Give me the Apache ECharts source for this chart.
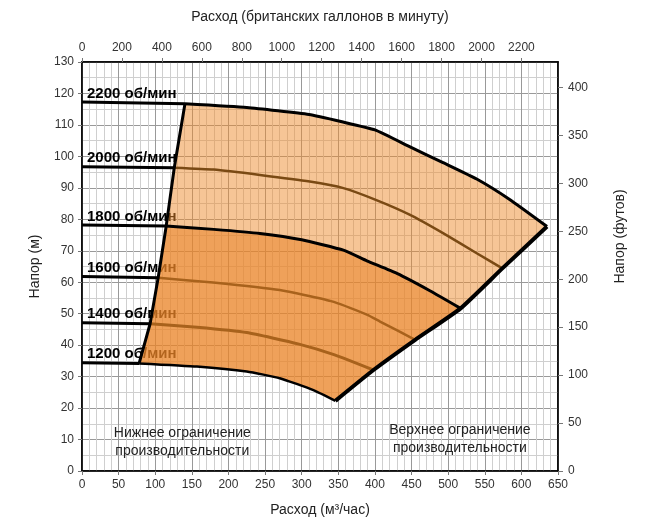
<!DOCTYPE html>
<html lang="ru">
<head>
    <meta charset="UTF-8">
    <title>Рабочая область насоса</title>
    <style>
        html,
        body {
            margin: 0;
            padding: 0;
            background: #fff;
        }
    </style>
</head>
<body>
    <div id="chart" style="width: 645px; height: 528px;"></div>

    <script src="https://cdn.jsdelivr.net/npm/echarts@6/dist/echarts.min.js"></script>
    <script>
        // Q (м3/час), H (м); index 1 = point on the lower (min flow) limit line
        var curve2200 = [[0, 117.3], [140.6, 116.7], [225, 115.5], [310, 113.3], [355, 111], [400, 108.4], [448, 103], [493, 98], [539, 92.8], [584, 86.3], [635, 77.7]];
        var curve2000 = [[0, 96.7], [126, 96.4], [180, 95.8], [243, 94.1], [311, 92.0], [357, 89.9], [402, 86.1], [448, 81.4], [493, 75.6], [539, 69.2], [574, 64.4]];
        var curve1800 = [[0, 78.2], [115, 77.9], [180, 76.8], [243, 75.5], [300, 73.5], [357, 70.2], [389, 66.8], [430, 62.8], [475, 57.3], [517, 51.7]];
        var curve1600 = [[0, 61.8], [104, 61.4], [179, 59.9], [270, 57.5], [340, 54], [389, 49.7], [407, 47.5], [455, 41.7]];
        var curve1400 = [[0, 47.1], [93, 46.8], [157, 45.7], [225, 44.0], [295, 40.4], [345, 36.9], [398, 32.1]];
        var curve1200 = [[0, 34.4], [78, 34.2], [157, 33.2], [225, 31.6], [270, 29.5], [316, 25.7], [346, 22.3]];

        var curves = [curve2200, curve2000, curve1800, curve1600, curve1400, curve1200];
        var rpmLabels = ['2200 об/мин', '2000 об/мин', '1800 об/мин', '1600 об/мин', '1400 об/мин', '1200 об/мин'];
        var innerColors = ['#000', '#7a4a14', '#000', '#a8621c', '#a8621c', '#000'];

        var notes = ['Нижнее ограничение\nпроизводительности', 'Верхнее ограничение\nпроизводительности'];
        var notePos = [[137, 9.3], [516, 10.2]];

        var IGPM_PER_M3H = 1000 / 4.54609 / 60;
        var FT_PER_M = 3.28084;
        var FONT = 'Liberation Sans, Arial, sans-serif';

        // limit lines go through the first inner point / last point of every curve
        var lowLimit = curves.map(function (c) { return c[1]; }).reverse();
        var highLimit = curves.map(function (c) { return c[c.length - 1]; }).reverse();

        function inner(c) { return c.slice(1); }

        // zone outlines: upper curve forward, right limit down, lower curve back, left limit up
        function zone(top, bottom) {
            var pts = inner(top);
            var iTop = curves.indexOf(top), iBot = curves.indexOf(bottom);
            for (var i = iTop + 1; i < iBot; i++) pts.push(curves[i][curves[i].length - 1]);
            pts = pts.concat(inner(bottom).reverse());
            for (var j = iBot - 1; j > iTop; j--) pts.push(curves[j][1]);
            return pts;
        }
        var zones = [zone(curve2200, curve1800), zone(curve1800, curve1200)];
        var zoneColors = ['rgba(238,140,45,0.5)', 'rgba(234,132,38,0.76)'];

        var chart = echarts.init(document.getElementById('chart'));

        var series = [];

        // rpm captions, sit under the filled zones
        series.push({
            type: 'custom',
            z: 1,
            silent: true,
            data: curves.map(function (c) { return c[0]; }),
            renderItem: function (params, api) {
                var p = api.coord([api.value(0), api.value(1)]);
                return {
                    type: 'text',
                    x: p[0] + 5,
                    y: p[1] - 1,
                    style: {
                        text: rpmLabels[params.dataIndex],
                        fontSize: 15,
                        fontWeight: 'bold',
                        fontFamily: FONT,
                        fill: '#000',
                        verticalAlign: 'bottom'
                    }
                };
            }
        });

        series.push({
            type: 'custom',
            z: 2,
            silent: true,
            data: zones.map(function () { return [0, 0]; }),
            renderItem: function (params, api) {
                var pts = zones[params.dataIndex].map(function (d) { return api.coord(d); });
                return {
                    type: 'polygon',
                    shape: { points: pts },
                    style: { fill: zoneColors[params.dataIndex] }
                };
            }
        });

        curves.forEach(function (c, i) {
            series.push({
                type: 'line',
                z: 3,
                data: c.slice(0, 2),
                showSymbol: false,
                lineStyle: { color: '#000', width: 3 }
            });
            series.push({
                type: 'line',
                z: 3,
                data: inner(c),
                smooth: 0.15,
                showSymbol: false,
                lineStyle: { color: innerColors[i], width: i % 2 === 0 ? 3 : 2.5, join: 'round' }
            });
        });

        series.push({
            type: 'line',
            z: 4,
            data: lowLimit,
            showSymbol: false,
            lineStyle: { color: '#000', width: 3 }
        });
        series.push({
            type: 'line',
            z: 4,
            data: highLimit,
            smooth: 0.15,
            showSymbol: false,
            lineStyle: { color: '#000', width: 4, join: 'round' }
        });

        series.push({
            type: 'custom',
            z: 5,
            silent: true,
            data: notePos,
            renderItem: function (params, api) {
                var p = api.coord([api.value(0), api.value(1)]);
                return {
                    type: 'text',
                    x: p[0],
                    y: p[1],
                    style: {
                        text: notes[params.dataIndex],
                        fontSize: 14,
                        fontFamily: FONT,
                        fill: '#222',
                        align: 'center',
                        verticalAlign: 'middle',
                        lineHeight: 18
                    }
                };
            }
        });

        var labelStyle = { color: '#333', fontSize: 12, fontFamily: FONT };
        var nameStyle = { color: '#222', fontSize: 14, fontFamily: FONT };
        var frameLine = { show: true, onZero: false, lineStyle: { color: '#000', width: 1.5 } };

        function plain(v) { return String(Math.round(v)); }

        chart.setOption({
            animation: false,
            grid: {
                left: 82, right: 87, top: 62, bottom: 57,
                show: true, borderColor: '#000', borderWidth: 1.5
            },
            xAxis: [{
                type: 'value',
                position: 'bottom',
                min: 0, max: 650, interval: 50,
                name: 'Расход (м³/час)',
                nameLocation: 'middle',
                nameGap: 32,
                nameTextStyle: nameStyle,
                axisLine: frameLine,
                axisTick: { show: true, length: 4, lineStyle: { color: '#777' } },
                axisLabel: Object.assign({ formatter: plain }, labelStyle),
                splitLine: { show: true, lineStyle: { color: '#999', width: 1 } },
                minorTick: { show: false, splitNumber: 5 },
                minorSplitLine: { show: true, lineStyle: { color: '#cfcfcf', width: 1 } }
            }, {
                type: 'value',
                position: 'top',
                min: 0, max: 650 * IGPM_PER_M3H, interval: 200,
                name: 'Расход (британских галлонов в минуту)',
                nameLocation: 'middle',
                nameGap: 38,
                nameTextStyle: nameStyle,
                axisLine: frameLine,
                axisTick: { show: true, length: 4, lineStyle: { color: '#777' } },
                axisLabel: Object.assign({
                    showMaxLabel: false,
                    formatter: function (v) { return v % 200 === 0 ? plain(v) : ''; }
                }, labelStyle),
                splitLine: { show: false }
            }],
            yAxis: [{
                type: 'value',
                position: 'left',
                min: 0, max: 130, interval: 10,
                name: 'Напор (м)',
                nameLocation: 'middle',
                nameGap: 40,
                nameTextStyle: nameStyle,
                axisLine: frameLine,
                axisTick: { show: true, length: 4, lineStyle: { color: '#777' } },
                axisLabel: Object.assign({ formatter: plain }, labelStyle),
                splitLine: { show: true, lineStyle: { color: '#999', width: 1 } },
                minorTick: { show: false, splitNumber: 2 },
                minorSplitLine: { show: true, lineStyle: { color: '#cfcfcf', width: 1 } }
            }, {
                type: 'value',
                position: 'right',
                min: 0, max: 130 * FT_PER_M, interval: 50,
                name: 'Напор (футов)',
                nameLocation: 'middle',
                nameGap: 55,
                nameTextStyle: Object.assign({ padding: [0, 0, 0, 60] }, nameStyle),
                axisLine: frameLine,
                axisTick: { show: true, length: 5, lineStyle: { color: '#777' } },
                axisLabel: Object.assign({
                    showMaxLabel: false,
                    margin: 10,
                    formatter: function (v) { return v % 50 === 0 ? plain(v) : ''; }
                }, labelStyle),
                splitLine: { show: false }
            }],
            series: series
        });
    </script>
</body>
</html>
